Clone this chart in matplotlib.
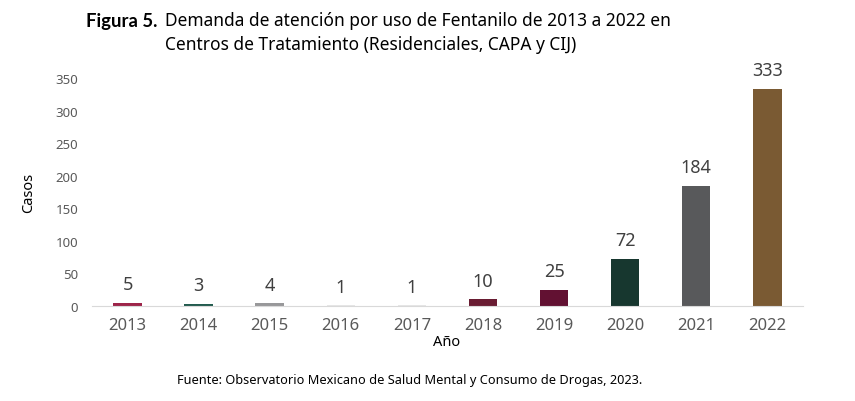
import matplotlib.pyplot as plt

anios = ['2013', '2014', '2015', '2016', '2017', '2018', '2019', '2020', '2021', '2022']
casos = [5, 3, 4, 1, 1, 10, 25, 72, 184, 333]
colores = ['#9d2449', '#235b4e', '#98989a', '#e6e6e6', '#e6e6e6',
           '#691c32', '#621132', '#17372f', '#58595b', '#7a5a33']

plt.rcParams['font.family'] = ['Noto Sans', 'DejaVu Sans']

fig = plt.figure(figsize=(8.55, 4.02), dpi=100)
ax = fig.add_axes([0.1076, 0.2363, 0.8314, 0.5672])

x = range(len(anios))
barras = ax.bar(x, casos, width=0.4, color=colores)
for i, v in enumerate(casos):
    ax.annotate(str(v), (i, v), xytext=(0, 7), textcoords='offset points',
                ha='center', va='bottom', fontsize=13, color='#404040')

ax.set_xlim(-0.5, 9.5)
ax.set_ylim(0, 350)
ax.set_yticks(range(0, 351, 50))
ax.set_xticks(list(x))
ax.set_xticklabels(anios, fontsize=12, color='#595959')
ax.tick_params(axis='y', labelsize=9.5, colors='#595959', length=0, pad=10)
ax.tick_params(axis='x', length=0, pad=8)
for lado in ['top', 'right', 'left']:
    ax.spines[lado].set_visible(False)
ax.spines['bottom'].set_color('#d9d9d9')

ax.set_ylabel('Casos', fontsize=10.5, color='black', labelpad=14)
fig.text(447 / 855, 1 - 343 / 402, 'Año', ha='center', va='center', fontsize=10.5)

fig.text(86 / 855, 1 - 21 / 402, 'Figura 5.', fontweight='bold', fontsize=13.3,
         ha='left', va='center', family=['Lato', 'DejaVu Sans'])
fig.text(165 / 855, 1 - 33 / 402,
         'Demanda de atención por uso de Fentanilo de 2013 a 2022 en\nCentros de Tratamiento (Residenciales, CAPA y CIJ)',
         fontsize=12.5, ha='left', va='center', linespacing=1.45)

fig.text(410 / 855, 1 - 381 / 402,
         'Fuente: Observatorio Mexicano de Salud Mental y Consumo de Drogas, 2023.',
         fontsize=9.2, ha='center', va='center')

fig.savefig('out.png', dpi=100)
